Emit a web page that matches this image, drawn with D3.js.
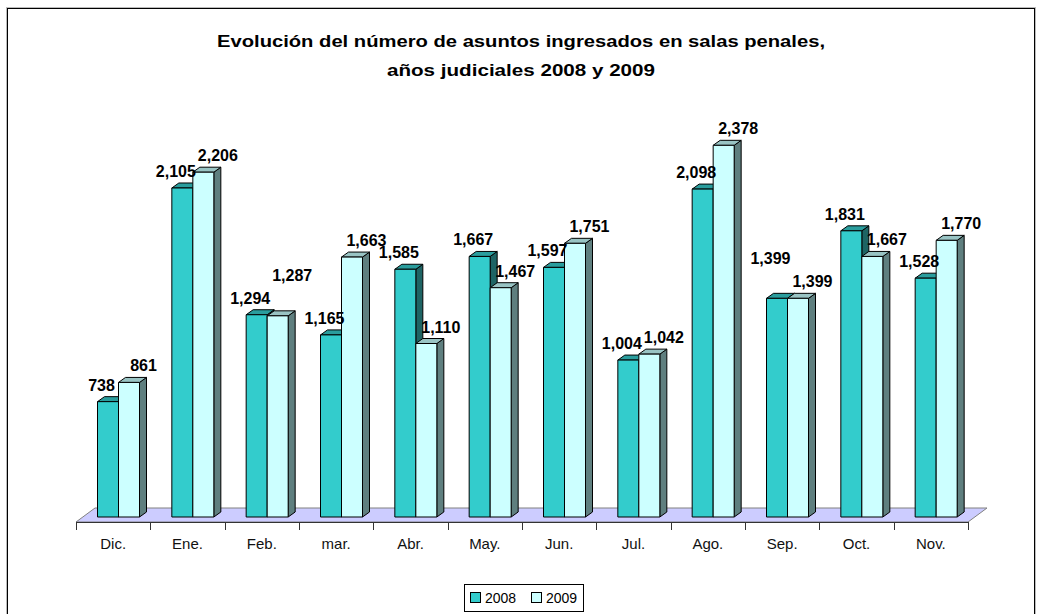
<!DOCTYPE html>
<html>
<head>
<meta charset="utf-8">
<script src="https://cdn.jsdelivr.net/npm/d3@7"></script>
<style>
  body { margin: 0; background: #fff; }
  svg text { font-family: "Liberation Sans", Arial, sans-serif; }
</style>
</head>
<body>
<div id="chart"></div>
<script>
// DATA
const months = ["Dic.", "Ene.", "Feb.", "mar.", "Abr.", "May.", "Jun.", "Jul.", "Ago.", "Sep.", "Oct.", "Nov."];
const years = ["2008", "2009"];
const values2008 = [738, 2105, 1294, 1165, 1585, 1667, 1597, 1004, 2098, 1399, 1831, 1528];
const values2009 = [861, 2206, 1287, 1663, 1110, 1467, 1751, 1042, 2378, 1399, 1667, 1770];
const titleLines = ["Evolución del número de asuntos ingresados en salas penales,", "años judiciales 2008 y 2009"];

const width = 1041, height = 614;

// colours per series: front, top, side
const faces = {
    "2008": {front: "#33CCCC", top: "#2A9D9D", side: "#1E6464"},
    "2009": {front: "#CCFFFF", top: "#99C4C4", side: "#5F7F7F"}
};

const svg = d3.select("#chart").append("svg")
    .attr("width", width)
    .attr("height", height);

// outer frame
svg.append("rect")
    .attr("x", 6.5).attr("y", 7.5)
    .attr("width", 1029).attr("height", 612)
    .attr("fill", "none").attr("stroke", "#bbb").attr("stroke-width", 1);
svg.append("rect")
    .attr("x", 7.5).attr("y", 8.5)
    .attr("width", 1027).attr("height", 610)
    .attr("fill", "none").attr("stroke", "#000").attr("stroke-width", 1);

// title
svg.selectAll("text.title")
    .data(titleLines)
    .enter().append("text")
    .attr("class", "title")
    .attr("x", 521)
    .attr("y", (d, i) => 47 + i * 29)
    .attr("text-anchor", "middle")
    .attr("font-size", 17)
    .attr("font-weight", "bold")
    .attr("textLength", (d, i) => i === 0 ? 608 : 268)
    .attr("lengthAdjust", "spacingAndGlyphs")
    .text(d => d);

// --- SCALES ---
const floorFront = 522, floorBack = 508;
const floorDepthX = 19;
const barBase = 517;
const depthX = 7, depthY = 5;

const x = d3.scaleBand()
    .domain(months)
    .range([76, 968]);

const y = d3.scaleLinear()
    .domain([0, 2500])
    .range([barBase, barBase - 2500 * 0.1563]);

const barW = 21;
const barOffset = 21.5;

// floor
const x0 = x.range()[0], x1 = x.range()[1];
svg.append("polygon")
    .attr("points", [[x0, floorFront], [x1, floorFront], [x1 + floorDepthX, floorBack], [x0 + floorDepthX, floorBack]].join(" "))
    .attr("fill", "#CCCCFF")
    .attr("stroke", "#808080")
    .attr("stroke-width", 1);
svg.append("line")
    .attr("x1", x0).attr("x2", x1)
    .attr("y1", floorFront + 0.5).attr("y2", floorFront + 0.5)
    .attr("stroke", "#333");

// ticks between categories
const tickPos = months.map(m => x(m)).concat([x1]);
svg.selectAll("line.tick")
    .data(tickPos)
    .enter().append("line")
    .attr("class", "tick")
    .attr("x1", d => Math.round(d) + 0.5).attr("x2", d => Math.round(d) + 0.5)
    .attr("y1", floorFront).attr("y2", floorFront + 8)
    .attr("stroke", "#333");

// category labels
svg.selectAll("text.cat")
    .data(months)
    .enter().append("text")
    .attr("class", "cat")
    .attr("x", d => x(d) + x.bandwidth() / 2)
    .attr("y", 549)
    .attr("text-anchor", "middle")
    .attr("font-size", 15)
    .attr("fill", "#111")
    .text(d => d);

// --- BARS ---
const bars = [];
months.forEach((m, i) => {
    [values2008[i], values2009[i]].forEach((v, s) => {
        bars.push({month: m, year: years[s], value: v, s: s,
                   left: x(m) + barOffset + s * barW});
    });
});

const g = svg.append("g").attr("stroke", "#000").attr("stroke-width", 1).attr("stroke-linejoin", "round");

const barG = g.selectAll("g.bar")
    .data(bars)
    .enter().append("g")
    .attr("class", "bar");

// side face
barG.append("polygon")
    .attr("points", d => {
        const t = y(d.value), r = d.left + barW;
        return [[r, t], [r + depthX, t - depthY], [r + depthX, barBase - depthY], [r, barBase]].join(" ");
    })
    .attr("fill", d => faces[d.year].side);

// top face
barG.append("polygon")
    .attr("points", d => {
        const t = y(d.value), l = d.left, r = d.left + barW;
        return [[l, t], [r, t], [r + depthX, t - depthY], [l + depthX, t - depthY]].join(" ");
    })
    .attr("fill", d => faces[d.year].top);

// front face
barG.append("rect")
    .attr("x", d => d.left)
    .attr("y", d => y(d.value))
    .attr("width", barW)
    .attr("height", d => barBase - y(d.value))
    .attr("fill", d => faces[d.year].front);

// --- VALUE LABELS ---
const fmt = d3.format(",");
bars.forEach(d => {
    d.lx = d.s === 0 ? d.left + 4 : d.left + barW + 4;
    d.ly = y(d.value) - 11;
});
// when both labels of a month sit on the same line, lift the lower bar's one
months.forEach(m => {
    const [a, b] = bars.filter(d => d.month === m);
    if (Math.abs(a.lx - b.lx) < 44 && Math.abs(a.ly - b.ly) < 4) {
        const low = a.value <= b.value ? a : b;
        low.ly = Math.min(a.ly, b.ly) - 23;
    }
});

svg.selectAll("text.val")
    .data(bars)
    .enter().append("text")
    .attr("class", "val")
    .attr("x", d => d.lx)
    .attr("y", d => d.ly)
    .attr("text-anchor", "middle")
    .attr("font-size", 16)
    .attr("font-weight", "bold")
    .text(d => fmt(d.value));

// --- LEGEND ---
const legend = svg.append("g");
legend.append("rect")
    .attr("x", 464.5).attr("y", 584.5)
    .attr("width", 119).attr("height", 27)
    .attr("fill", "#fff").attr("stroke", "#000");
const lx = d3.scaleOrdinal().domain(years).range([470, 531]);
const item = legend.selectAll("g.item")
    .data(years)
    .enter().append("g")
    .attr("class", "item")
    .attr("transform", d => `translate(${lx(d)},0)`);
item.append("rect")
    .attr("x", 0.5).attr("y", 592.5)
    .attr("width", 10).attr("height", 10)
    .attr("fill", d => faces[d].front)
    .attr("stroke", "#000");
item.append("text")
    .attr("x", 15).attr("y", 603)
    .attr("font-size", 14)
    .text(d => d);
</script>
</body>
</html>
